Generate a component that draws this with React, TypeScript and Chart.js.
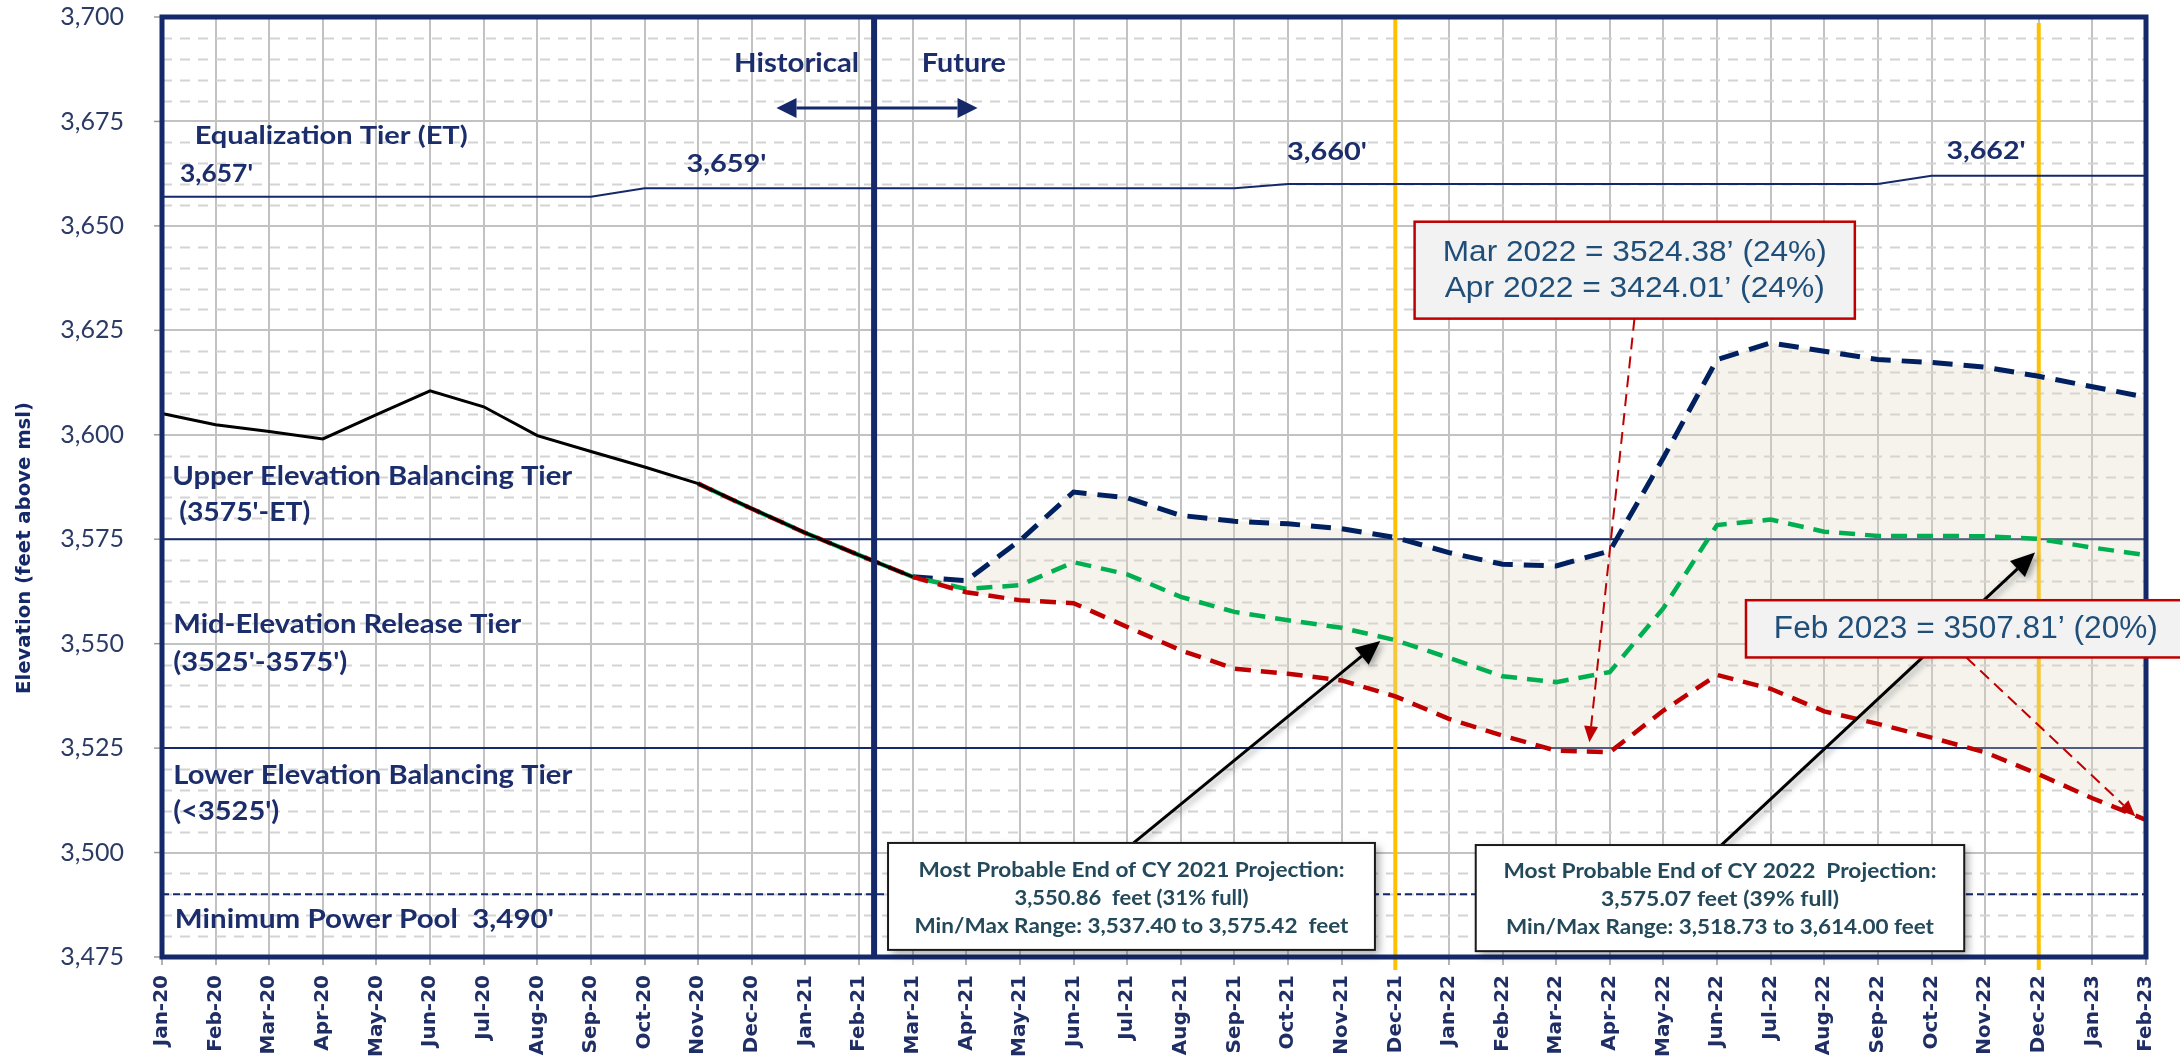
import React, { useEffect, useRef } from 'react';
import { Chart, registerables } from 'chart.js';

Chart.register(...registerables);

// ---------------- DATA ----------------
const months = [
  'Jan-20', 'Feb-20', 'Mar-20', 'Apr-20', 'May-20', 'Jun-20', 'Jul-20', 'Aug-20', 'Sep-20', 'Oct-20', 'Nov-20', 'Dec-20',
  'Jan-21', 'Feb-21', 'Mar-21', 'Apr-21', 'May-21', 'Jun-21', 'Jul-21', 'Aug-21', 'Sep-21', 'Oct-21', 'Nov-21', 'Dec-21',
  'Jan-22', 'Feb-22', 'Mar-22', 'Apr-22', 'May-22', 'Jun-22', 'Jul-22', 'Aug-22', 'Sep-22', 'Oct-22', 'Nov-22', 'Dec-22',
  'Jan-23', 'Feb-23',
];

const N = null;

const historical = [
  3605.1, 3602.4, 3600.8, 3599.0, 3604.8, 3610.5, 3606.7, 3599.8, 3596.0, 3592.3, 3588.3, 3582.3,
  3576.5, 3571.2, 3566.0, N, N, N, N, N, N, N, N, N,
  N, N, N, N, N, N, N, N, N, N, N, N,
  N, N,
];

const minProbable = [
  N, N, N, N, N, N, N, N, N, N, 3588.3, 3582.3,
  3576.5, 3571.2, 3566.0, 3562.3, 3560.4, 3559.7, 3554.0, 3548.4, 3544.0, 3542.8, 3541.2, 3537.4,
  3532.0, 3528.0, 3524.38, 3524.01, 3534.0, 3542.5, 3539.2, 3533.8, 3530.8, 3527.5, 3524.0, 3518.73,
  3513.0, 3507.81,
];

const mostProbable = [
  N, N, N, N, N, N, N, N, N, N, 3588.3, 3582.3,
  3576.5, 3571.2, 3566.0, 3563.1, 3564.0, 3569.5, 3566.6, 3561.2, 3557.6, 3555.6, 3553.8, 3550.86,
  3546.6, 3542.2, 3540.8, 3543.2, 3558.5, 3578.4, 3579.7, 3576.8, 3575.8, 3575.8, 3575.7, 3575.07,
  3573.0, 3571.2,
];

const maxProbable = [
  N, N, N, N, N, N, N, N, N, N, N, N,
  N, N, 3566.0, 3565.1, 3574.7, 3586.3, 3584.9, 3580.7, 3579.3, 3578.7, 3577.5, 3575.42,
  3571.8, 3569.0, 3568.6, 3572.2, 3594.5, 3618.0, 3622.0, 3620.0, 3618.0, 3617.3, 3616.2, 3614.0,
  3611.5, 3609.0,
];

const equalizationTier = [
  3657, 3657, 3657, 3657, 3657, 3657, 3657, 3657, 3657, 3659, 3659, 3659,
  3659, 3659, 3659, 3659, 3659, 3659, 3659, 3659, 3659, 3660, 3660, 3660,
  3660, 3660, 3660, 3660, 3660, 3660, 3660, 3660, 3660, 3662, 3662, 3662,
  3662, 3662,
];

const tierBoundaries = [3575, 3525];
const minimumPowerPool = 3490;
const yMin = 3475;
const yMax = 3700;
const yMajorStep = 25;
const yMinorStep = 5;
const yellowMonths = ['Dec-21', 'Dec-22'];
const historicalFutureBoundary = 13.28; // month index between Feb-21 and Mar-21

// ---------------- STYLE ----------------
const NAVY = '#15296a';
const TIER_TEXT = '#1b2d6b';
const BOX_TEXT = '#23495a';
const RED_TEXT = '#1f4e79';
const RED = '#c00000';
const LATO = 'Lato, "Open Sans", sans-serif';
const DEJAVU = '"DejaVu Sans", Verdana, sans-serif';
const ARIAL = '"Liberation Sans", Arial, sans-serif';

type TextItem = { text: string; i: number; v: number; w: number; size: number; align?: 'left' | 'center' | 'right' };

const tierTexts: TextItem[] = [
  { text: 'Equalization Tier (ET)', i: 0.61, v: 3671.5, w: 273, size: 25 },
  { text: "3,657'", i: 0.335, v: 3662.4, w: 73, size: 25 },
  { text: "3,659'", i: 9.78, v: 3664.8, w: 80, size: 25 },
  { text: "3,660'", i: 20.98, v: 3667.6, w: 80, size: 25 },
  { text: "3,662'", i: 33.28, v: 3667.9, w: 79, size: 25 },
  { text: 'Upper Elevation Balancing Tier', i: 0.19, v: 3589.9, w: 400, size: 26 },
  { text: "(3575'-ET)", i: 0.32, v: 3581.3, w: 131, size: 26 },
  { text: 'Mid-Elevation Release Tier', i: 0.21, v: 3554.5, w: 348, size: 26 },
  { text: "(3525'-3575')", i: 0.21, v: 3545.5, w: 174, size: 26 },
  { text: 'Lower Elevation Balancing Tier', i: 0.21, v: 3518.3, w: 399, size: 26 },
  { text: "(<3525')", i: 0.21, v: 3509.8, w: 106, size: 26 },
  { text: "Minimum Power Pool  3,490'", i: 0.24, v: 3484.0, w: 379, size: 26 },
  { text: 'Historical', i: 13.0, v: 3688.8, w: 125, size: 26, align: 'right' },
  { text: 'Future', i: 14.17, v: 3688.8, w: 84, size: 26 },
];

type BoxItem = { i0: number; i1: number; v0: number; v1: number; lines: { text: string; v: number; w: number }[] };

const blackBoxes: BoxItem[] = [
  {
    i0: 13.54, i1: 22.62, v0: 3502.3, v1: 3476.7,
    lines: [
      { text: 'Most Probable End of CY 2021 Projection:', v: 3495.8, w: 426 },
      { text: '3,550.86  feet (31% full)', v: 3489.1, w: 234 },
      { text: 'Min/Max Range: 3,537.40 to 3,575.42  feet', v: 3482.4, w: 434 },
    ],
  },
  {
    i0: 24.5, i1: 33.61, v0: 3501.8, v1: 3476.4,
    lines: [
      { text: 'Most Probable End of CY 2022  Projection:', v: 3495.5, w: 433 },
      { text: '3,575.07 feet (39% full)', v: 3488.8, w: 238 },
      { text: 'Min/Max Range: 3,518.73 to 3,614.00 feet', v: 3482.1, w: 428 },
    ],
  },
];

const blackArrows = [
  { i0: 18.12, v0: 3502.3, i1: 22.72, v1: 3550.65 },
  { i0: 29.08, v0: 3501.8, i1: 34.93, v1: 3571.8 },
];

function drawFitText(
  ctx: CanvasRenderingContext2D, text: string, x: number, y: number, font: string,
  color: string, targetW: number | null, align: 'left' | 'center' | 'right' = 'left',
) {
  ctx.save();
  ctx.font = font;
  ctx.fillStyle = color;
  ctx.textBaseline = 'middle';
  ctx.textAlign = 'left';
  const w = ctx.measureText(text).width;
  const sx = targetW ? targetW / w : 1;
  const dw = w * sx;
  const left = align === 'left' ? x : align === 'center' ? x - dw / 2 : x - dw;
  ctx.translate(left, y);
  ctx.scale(sx, 1);
  ctx.fillText(text, 0, 0);
  ctx.restore();
}

function drawArrow(
  ctx: CanvasRenderingContext2D, x1: number, y1: number, x2: number, y2: number,
  color: string, width: number, headLen: number, headW: number, dash?: number[],
) {
  const a = Math.atan2(y2 - y1, x2 - x1);
  const bx = x2 - headLen * Math.cos(a);
  const by = y2 - headLen * Math.sin(a);
  ctx.save();
  ctx.strokeStyle = color;
  ctx.lineWidth = width;
  if (dash) ctx.setLineDash(dash);
  ctx.beginPath();
  ctx.moveTo(x1, y1);
  ctx.lineTo(bx, by);
  ctx.stroke();
  ctx.setLineDash([]);
  ctx.fillStyle = color;
  ctx.beginPath();
  ctx.moveTo(x2, y2);
  ctx.lineTo(bx + headW * Math.sin(a), by - headW * Math.cos(a));
  ctx.lineTo(bx - headW * Math.sin(a), by + headW * Math.cos(a));
  ctx.closePath();
  ctx.fill();
  ctx.restore();
}

const decorPlugin = {
  id: 'decor',
  beforeDatasetsDraw(chart: any) {
    const { ctx, chartArea: ca, scales } = chart;
    const x = scales.x;
    const y = scales.y;
    ctx.save();
    // small y tick marks
    ctx.strokeStyle = '#9a9a9a';
    ctx.lineWidth = 1.5;
    for (let v = yMin; v <= yMax; v += yMajorStep) {
      const py = y.getPixelForValue(v);
      ctx.beginPath();
      ctx.moveTo(ca.left - 8, py);
      ctx.lineTo(ca.left, py);
      ctx.stroke();
    }
    // minor dashed grid
    ctx.strokeStyle = '#d3d3d3';
    ctx.lineWidth = 2;
    ctx.setLineDash([10, 8]);
    for (let v = yMin + yMinorStep; v < yMax; v += yMinorStep) {
      if (v % yMajorStep === 0) continue;
      const py = Math.round(y.getPixelForValue(v)) + 0.5;
      ctx.beginPath();
      ctx.moveTo(ca.left, py);
      ctx.lineTo(ca.right, py);
      ctx.stroke();
    }
    ctx.setLineDash([]);
    // tier boundaries
    ctx.strokeStyle = NAVY;
    ctx.lineWidth = 2;
    tierBoundaries.forEach((v) => {
      const py = y.getPixelForValue(v);
      ctx.beginPath();
      ctx.moveTo(ca.left, py);
      ctx.lineTo(ca.right, py);
      ctx.stroke();
    });
    ctx.setLineDash([7, 4]);
    const pp = y.getPixelForValue(minimumPowerPool);
    ctx.beginPath();
    ctx.moveTo(ca.left, pp);
    ctx.lineTo(ca.right, pp);
    ctx.stroke();
    ctx.setLineDash([]);
    // yellow lines
    ctx.strokeStyle = '#ffc000';
    ctx.lineWidth = 4;
    yellowMonths.forEach((m, k) => {
      const px = x.getPixelForValue(months.indexOf(m));
      ctx.beginPath();
      ctx.moveTo(px, ca.top + (k === 0 ? 0 : 6));
      ctx.lineTo(px, ca.bottom + 13);
      ctx.stroke();
    });
    ctx.restore();
  },
  afterDatasetsDraw(chart: any) {
    const { ctx, chartArea: ca, scales } = chart;
    const x = scales.x;
    const y = scales.y;
    const X = (i: number) => x.getPixelForValue(i);
    const Y = (v: number) => y.getPixelForValue(v);
    ctx.save();

    // historical / future divider
    ctx.strokeStyle = NAVY;
    ctx.lineWidth = 6;
    const dx = X(historicalFutureBoundary);
    ctx.beginPath();
    ctx.moveTo(dx, ca.top);
    ctx.lineTo(dx, ca.bottom);
    ctx.stroke();

    // plot border
    ctx.lineWidth = 5;
    ctx.strokeRect(ca.left, ca.top, ca.right - ca.left, ca.bottom - ca.top);

    // double arrow
    const ay = Y(3678.2);
    const ax0 = X(11.46);
    const ax1 = X(15.21);
    const mid = (ax0 + ax1) / 2;
    drawArrow(ctx, mid, ay, ax0, ay, NAVY, 3, 20, 10);
    drawArrow(ctx, mid, ay, ax1, ay, NAVY, 3, 20, 10);

    // tier texts
    tierTexts.forEach((t) => {
      drawFitText(ctx, t.text, X(t.i), Y(t.v), `bold ${t.size}px ${LATO}`, TIER_TEXT, t.w, t.align || 'left');
    });

    // black arrows with shadow
    blackArrows.forEach((a) => {
      ctx.save();
      ctx.shadowColor = 'rgba(0,0,0,0.35)';
      ctx.shadowBlur = 6;
      ctx.shadowOffsetX = 3;
      ctx.shadowOffsetY = 3;
      drawArrow(ctx, X(a.i0), Y(a.v0), X(a.i1), Y(a.v1), '#000000', 3, 24, 11);
      ctx.restore();
    });

    // black boxes
    blackBoxes.forEach((b) => {
      const l = X(b.i0), r = X(b.i1), t = Y(b.v0), bt = Y(b.v1);
      ctx.save();
      ctx.shadowColor = 'rgba(0,0,0,0.35)';
      ctx.shadowBlur = 8;
      ctx.shadowOffsetX = 4;
      ctx.shadowOffsetY = 4;
      ctx.fillStyle = '#ffffff';
      ctx.fillRect(l, t, r - l, bt - t);
      ctx.restore();
      ctx.strokeStyle = '#1a1a1a';
      ctx.lineWidth = 2;
      ctx.strokeRect(l, t, r - l, bt - t);
      const cx = (l + r) / 2;
      b.lines.forEach((ln) => {
        drawFitText(ctx, ln.text, cx, Y(ln.v), `bold 21px ${LATO}`, BOX_TEXT, ln.w, 'center');
      });
    });

    // red dashed arrows
    drawArrow(ctx, X(27.46), Y(3627.8), X(26.62), Y(3526.4), RED, 2, 16, 7, [12, 7]);
    drawArrow(ctx, X(33.65), Y(3546.7), X(36.8), Y(3508.7), RED, 2, 16, 7, [12, 7]);

    // red boxes
    const redBox = (l: number, t: number, r: number, b: number) => {
      ctx.fillStyle = '#f2f2f2';
      ctx.fillRect(l, t, r - l, b - t);
      ctx.strokeStyle = RED;
      ctx.lineWidth = 2.5;
      ctx.strokeRect(l, t, r - l, b - t);
    };
    const r1l = X(23.36), r1r = X(31.57);
    redBox(r1l, Y(3651.0), r1r, Y(3627.8));
    const r1c = (r1l + r1r) / 2;
    drawFitText(ctx, 'Mar 2022 = 3524.38\u2019 (24%)', r1c, Y(3643.6), `30px ${ARIAL}`, RED_TEXT, 384, 'center');
    drawFitText(ctx, 'Apr 2022 = 3424.01\u2019 (24%)', r1c, Y(3635.0), `30px ${ARIAL}`, RED_TEXT, 380, 'center');

    redBox(X(29.54), Y(3560.4), chart.width + 10, Y(3546.7));
    drawFitText(ctx, 'Feb 2023 = 3507.81\u2019 (20%)', X(30.06), Y(3553.5), `31px ${ARIAL}`, RED_TEXT, 384, 'left');

    // y axis title
    ctx.save();
    ctx.translate(25, 548);
    ctx.rotate(-Math.PI / 2);
    drawFitText(ctx, 'Elevation (feet above msl)', 0, 0, `bold 19px ${DEJAVU}`, NAVY, 292, 'center');
    ctx.restore();

    ctx.restore();
  },
};

export default function App() {
  const ref = useRef<HTMLCanvasElement | null>(null);

  useEffect(() => {
    if (!ref.current) return;
    const lineBase = {
      pointRadius: 0,
      pointHoverRadius: 0,
      tension: 0,
      spanGaps: false,
      fill: false,
    };
    const chart = new Chart(ref.current, {
      type: 'line',
      data: {
        labels: months,
        datasets: [
          {
            ...lineBase,
            label: 'Equalization Tier',
            data: equalizationTier,
            borderColor: NAVY,
            borderWidth: 2,
          },
          {
            ...lineBase,
            label: 'Historical',
            data: historical,
            borderColor: '#000000',
            borderWidth: 3,
          },
          {
            ...lineBase,
            label: 'Min Probable',
            data: minProbable,
            borderColor: RED,
            borderWidth: 4.5,
            borderDash: [16, 10],
          },
          {
            ...lineBase,
            label: 'Most Probable',
            data: mostProbable,
            borderColor: '#00b050',
            borderWidth: 4.5,
            borderDash: [16, 10],
            borderDashOffset: 13,
          },
          {
            ...lineBase,
            label: 'Max Probable',
            data: maxProbable,
            borderColor: '#002060',
            borderWidth: 5,
            borderDash: [20, 11],
            fill: { target: 2 },
            backgroundColor: 'rgba(222, 214, 192, 0.3)',
          },
        ],
      } as any,
      options: {
        animation: false,
        responsive: false,
        devicePixelRatio: 1,
        events: [],
        layout: { padding: { top: 0, right: 29, left: 0, bottom: 0 } },
        plugins: {
          legend: { display: false },
          tooltip: { enabled: false },
          title: { display: false },
          filler: { propagate: false },
        },
        scales: {
          x: {
            type: 'category',
            offset: false,
            grid: {
              offset: false,
              color: '#c2c2c2',
              lineWidth: 2,
              tickLength: 8,
              tickColor: '#9a9a9a',
              tickWidth: 1.5,
            },
            border: { display: false },
            ticks: {
              autoSkip: false,
              maxRotation: 90,
              minRotation: 90,
              padding: 10,
              color: '#1f2f66',
              font: { family: DEJAVU, size: 20, weight: 'bold' },
            },
            afterFit: (s: any) => { s.height = 101; },
          },
          y: {
            min: yMin,
            max: yMax,
            grid: {
              color: '#c2c2c2',
              lineWidth: 2,
              tickLength: 36,
              tickColor: 'rgba(0,0,0,0)',
              tickWidth: 1,
            },
            border: { display: false },
            ticks: {
              stepSize: yMajorStep,
              padding: 2,
              color: '#2c3b66',
              font: { family: LATO, size: 25, lineHeight: 1.2 },
              callback: (v: any) => Number(v).toLocaleString('en-US'),
            },
            afterFit: (s: any) => { s.width = 162; },
          },
        },
      } as any,
      plugins: [decorPlugin],
    });
    return () => chart.destroy();
  }, []);

  return (
    <div style={{ position: 'absolute', left: 0, top: 0, width: 2180, height: 1058, background: '#ffffff' }}>
      <canvas ref={ref} width={2180} height={1058} style={{ display: 'block', width: 2180, height: 1058 }} />
    </div>
  );
}
